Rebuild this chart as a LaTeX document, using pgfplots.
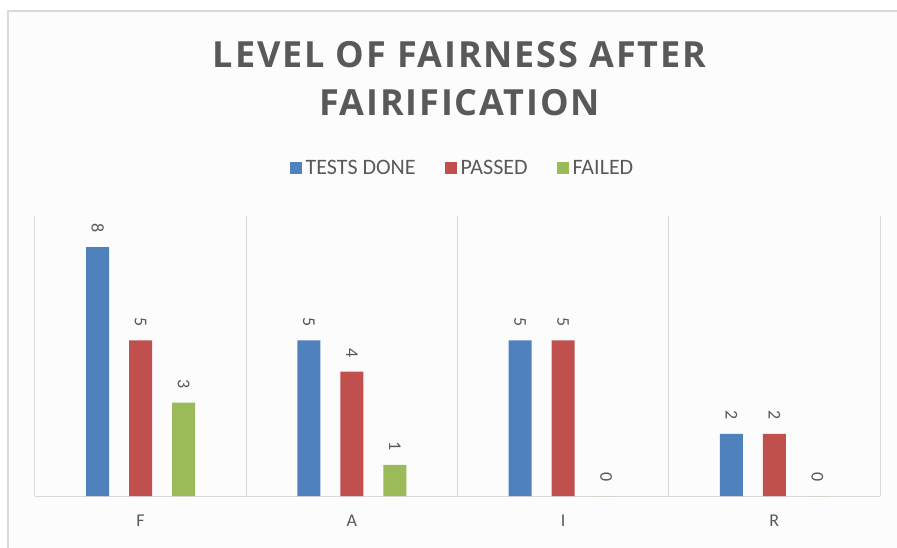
\documentclass[border=0pt]{standalone}
\usepackage{fontspec}
\setmainfont{Carlito}
\newfontfamily\titlefont[LetterSpace=5]{Open Sans}
\usepackage{pgfplots}
\pgfplotsset{compat=1.18}
\definecolor{cblue}{HTML}{4F81BD}
\definecolor{cred}{HTML}{C0504D}
\definecolor{cgreen}{HTML}{9BBB59}
\definecolor{txtgray}{HTML}{595959}
\definecolor{linegray}{HTML}{D9D9D9}
\begin{document}
\begin{tikzpicture}
\path[use as bounding box] (-35pt,-51pt) rectangle (862pt,496pt);
\fill[white] (-35pt,-51pt) rectangle (862pt,496pt);
\fill[black!1] (-27pt,-51pt) rectangle (862pt,485pt);
\draw[linegray, line width=1.5pt] (-27pt,-52pt) -- (-27pt,485pt) -- (863pt,485pt);
\begin{axis}[
  scale only axis,
  width=845pt, height=280pt,
  xmin=-0.5, xmax=3.5, ymin=0, ymax=9,
  ybar=20pt, bar width=23pt,
  axis lines*=left,
  axis line style={linegray, line width=1pt, -},
  xtick={0,1,2,3}, xticklabels={F,A,I,R},
  ytick=\empty,
  major tick length=0pt,
  minor xtick={0.5,1.5,2.5,3.5},
  minor tick length=0pt,
  xminorgrids,
  minor x grid style={linegray, line width=1pt},
  xticklabel style={font=\fontsize{18}{18}\selectfont, text=txtgray, yshift=-15pt},
  clip=false,
  /pgf/number format/assume math mode=true,
  nodes near coords,
  every node near coord/.append style={rotate=-90, anchor=east, inner xsep=14pt, inner ysep=0pt, font=\fontsize{18}{18}\selectfont, text=txtgray},
  title={LEVEL OF FAIRNESS AFTER\\FAIRIFICATION},
  title style={at={(0.5,1)}, anchor=center, yshift=131pt, xshift=2pt, align=center, text=txtgray, font=\titlefont\bfseries\fontsize{36}{48}\selectfont},
  legend style={at={(0.5,1)}, anchor=center, yshift=48pt, xshift=5pt, draw=none, fill=none, legend columns=-1,
    font=\fontsize{22}{22}\selectfont, text=txtgray,
    /tikz/every even column/.append style={column sep=27pt},
    /tikz/every odd column/.append style={column sep=2pt}},
  legend image code/.code={\fill[#1] (0pt,-6pt) rectangle (12pt,6pt);},
]
\addplot[fill=cblue, draw=none] coordinates {(0,8) (1,5) (2,5) (3,2)};
\addplot[fill=cred, draw=none] coordinates {(0,5) (1,4) (2,5) (3,2)};
\addplot[fill=cgreen, draw=none] coordinates {(0,3) (1,1) (2,0) (3,0)};
\legend{TESTS DONE, PASSED, FAILED}
\end{axis}
\end{tikzpicture}
\end{document}
